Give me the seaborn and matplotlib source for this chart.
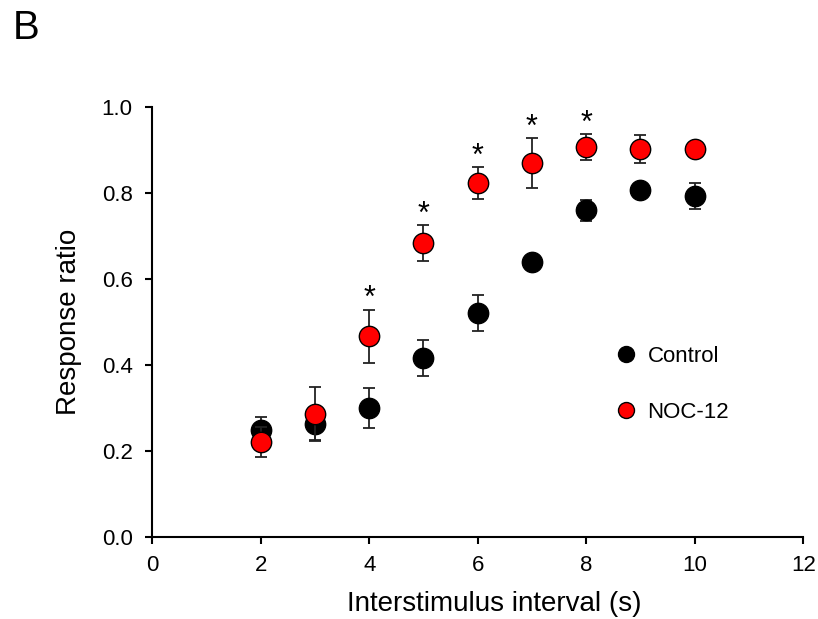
import matplotlib
matplotlib.use("Agg")
import matplotlib.pyplot as plt
import seaborn as sns
import pandas as pd
from matplotlib.lines import Line2D

intervals = [2, 3, 4, 5, 6, 7, 8, 9, 10]
control = [0.249, 0.263, 0.300, 0.416, 0.521, 0.640, 0.760, 0.807, 0.793]
control_err = [0.030, 0.037, 0.047, 0.042, 0.042, 0.010, 0.025, 0.010, 0.030]
noc12 = [0.221, 0.286, 0.467, 0.684, 0.823, 0.870, 0.907, 0.902, 0.902]
noc12_err = [0.035, 0.063, 0.062, 0.042, 0.037, 0.058, 0.030, 0.033, 0.005]
sig_intervals = [4, 5, 6, 7, 8]
series_names = ["Control", "NOC-12"]
colors = {"Control": "black", "NOC-12": "#ff0000"}

df = pd.concat([
    pd.DataFrame({"x": intervals, "y": control, "err": control_err, "group": "Control"}),
    pd.DataFrame({"x": intervals, "y": noc12, "err": noc12_err, "group": "NOC-12"}),
])

sns.set_style("ticks")
plt.rcParams["font.family"] = ["Liberation Sans", "DejaVu Sans"]
plt.rcParams["text.color"] = "black"
plt.rcParams["axes.labelcolor"] = "black"
plt.rcParams["xtick.color"] = "black"
plt.rcParams["ytick.color"] = "black"

fig = plt.figure(figsize=(8.18, 6.19), dpi=100)
ax = fig.add_axes([0.186, 0.1325, 0.796, 0.6945])

for i, name in enumerate(series_names):
    sub = df[df["group"] == name]
    ax.errorbar(sub["x"], sub["y"], yerr=sub["err"], fmt="none", ecolor="#222222",
                elinewidth=1.3, capsize=4, capthick=1.3, zorder=2 + 2 * i)
    sns.scatterplot(data=sub, x="x", y="y", color=colors[name], edgecolor="black",
                    linewidth=1.0, s=215, ax=ax, zorder=3 + 2 * i, legend=False)

for xv in sig_intervals:
    idx = intervals.index(xv)
    top = noc12[idx] + noc12_err[idx]
    ax.text(xv, top - 0.011, "*", ha="center", va="bottom", fontsize=22, color="black")

ax.set_xlim(0, 12)
ax.set_ylim(0, 1.0)
ax.set_xticks(range(0, 13, 2))
ax.set_yticks([0.0, 0.2, 0.4, 0.6, 0.8, 1.0])
ax.set_yticklabels(["0.0", "0.2", "0.4", "0.6", "0.8", "1.0"])
ax.tick_params(axis="both", labelsize=16, direction="out", length=5, width=1.5)
ax.tick_params(axis="x", pad=8)
ax.tick_params(axis="y", pad=9)
for sp in ["top", "right"]:
    ax.spines[sp].set_visible(False)
for sp in ["left", "bottom"]:
    ax.spines[sp].set_linewidth(1.5)
    ax.spines[sp].set_color("black")

ax.set_xlabel("Interstimulus interval (s)", fontsize=20, labelpad=11)
ax.xaxis.label.set_x(0.525)
ax.set_ylabel("Response ratio", fontsize=20, labelpad=14)

handles = [Line2D([], [], marker="o", linestyle="none", markerfacecolor=colors[n],
                  markeredgecolor="black", markersize=11.5) for n in series_names]
ax.legend(handles, series_names, loc="center left", bbox_to_anchor=(0.672, 0.355),
          frameon=False, fontsize=16, handletextpad=0.2, labelspacing=1.6,
          handlelength=1.5)

fig.text(0.016, 0.954, "B", fontsize=29, ha="left", va="center")

fig.savefig("out.png", dpi=100)
